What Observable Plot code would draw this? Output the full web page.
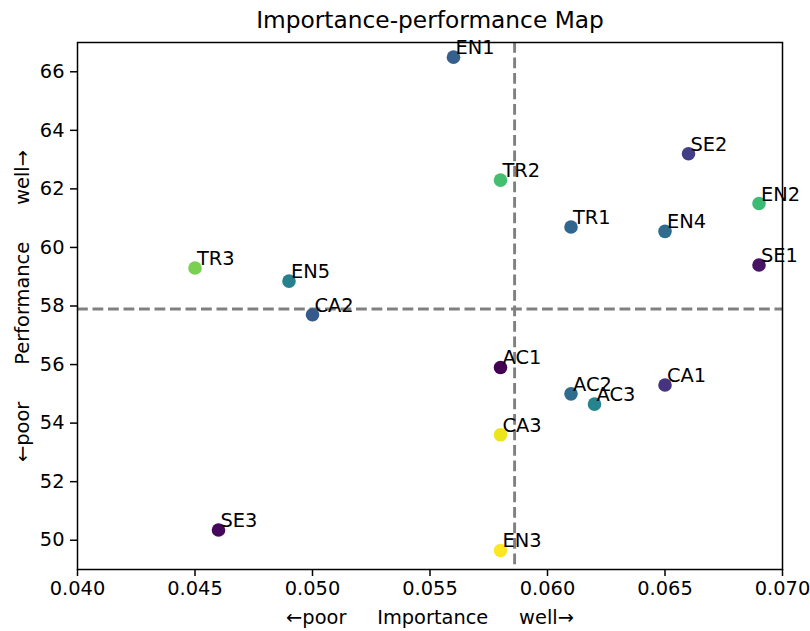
<!DOCTYPE html>
<html>
<head>
<meta charset="utf-8">
<script src="https://cdn.jsdelivr.net/npm/d3@7"></script>
<script src="https://cdn.jsdelivr.net/npm/@observablehq/plot@0.6"></script>
<style>
  html, body { margin: 0; padding: 0; background: white; }
</style>
</head>
<body>
<div id="chart"></div>
<script>
const labels = ["EN1","SE2","TR2","EN2","TR1","EN4","SE1","TR3","EN5","CA2","AC1","CA1","AC2","AC3","CA3","SE3","EN3"];
const importance = [0.056,0.066,0.058,0.069,0.061,0.065,0.069,0.045,0.049,0.050,0.058,0.065,0.061,0.062,0.058,0.046,0.058];
const performance = [66.5,63.2,62.3,61.5,60.7,60.55,59.4,59.3,58.85,57.7,55.9,55.3,55.0,54.65,53.6,50.35,49.65];
const colorValue = [0.30,0.18,0.70,0.68,0.33,0.35,0.05,0.80,0.43,0.28,0.0,0.15,0.35,0.45,0.97,0.02,1.0];
const meanImportance = 0.0586;
const meanPerformance = 57.9;
const xTicks = [0.040,0.045,0.050,0.055,0.060,0.065,0.070];
const yTicks = [50,52,54,56,58,60,62,64,66];
const titleText = "Importance-performance Map";
const sp5 = "\u00a0".repeat(5);
const sp6 = "\u00a0".repeat(6);
const xLabel = "←poor" + sp5 + "Importance" + sp5 + "well→";
const yLabel = "←poor" + sp6 + "Performance" + sp6 + "well→";

const data = labels.map((l, i) => ({label: l, x: importance[i], y: performance[i], c: colorValue[i]}));

const FS = 19.4;

const chart = Plot.plot({
  width: 810,
  height: 631,
  marginTop: 42,
  marginLeft: 77,
  marginRight: 28,
  marginBottom: 62,
  style: {fontFamily: "DejaVu Sans", fontSize: FS + "px", background: "white", color: "black"},
  x: {domain: [0.04, 0.07]},
  y: {domain: [49, 67]},
  color: {type: "linear", scheme: "viridis", domain: [0, 1]},
  marks: [
    Plot.ruleX([meanImportance], {stroke: "#808080", strokeWidth: 2.9, strokeDasharray: "10.8,4.7"}),
    Plot.ruleY([meanPerformance], {stroke: "#808080", strokeWidth: 2.9, strokeDasharray: "10.8,4.7"}),
    Plot.dot(data, {x: "x", y: "y", fill: "c", r: 6.8, stroke: null}),
    Plot.text(data, {x: "x", y: "y", text: "label", textAnchor: "start", lineAnchor: "bottom", dx: 2, dy: -3, fontSize: FS, fill: "black"}),
    Plot.axisX({ticks: xTicks, tickFormat: d3.format(".3f"), tickSize: 7, tickPadding: 5, fontSize: FS, label: null, stroke: "black", strokeWidth: 1.5}),
    Plot.axisY({ticks: yTicks, tickFormat: d3.format("d"), tickSize: 7, tickPadding: 6, fontSize: FS, label: null, stroke: "black", strokeWidth: 1.5}),
    Plot.frame({stroke: "black", strokeWidth: 1.5}),
    Plot.text([titleText], {frameAnchor: "top", textAnchor: "middle", dy: -22, lineAnchor: "middle", fontSize: 23.3, fill: "black"}),
    Plot.text([xLabel], {frameAnchor: "bottom", textAnchor: "middle", dy: 48, lineAnchor: "middle", fontSize: FS, fill: "black"}),
    Plot.text([yLabel], {frameAnchor: "left", textAnchor: "middle", dx: -55, rotate: -90, lineAnchor: "middle", fontSize: FS, fill: "black"})
  ]
});
document.getElementById("chart").appendChild(chart);
</script>
</body>
</html>
